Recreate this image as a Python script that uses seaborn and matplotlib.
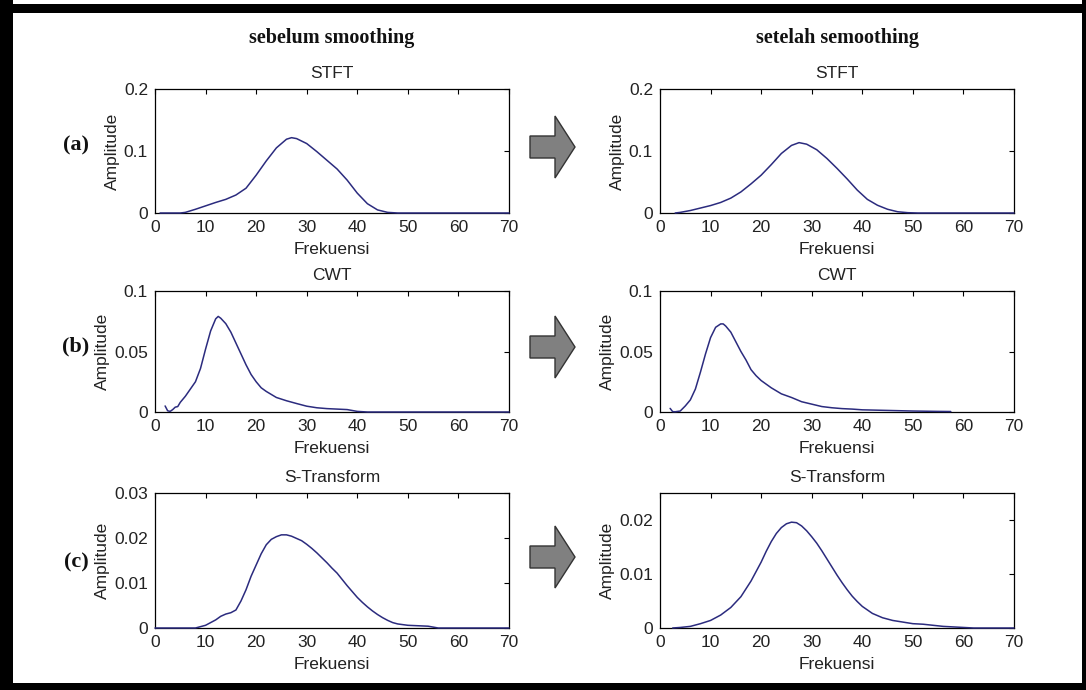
import matplotlib
matplotlib.use("Agg")
import matplotlib.pyplot as plt
import seaborn as sns
from matplotlib.patches import Polygon, Rectangle
from matplotlib.ticker import FuncFormatter

# ---- values ----
# STFT, before smoothing
stft_before_f = [1, 2, 4, 5, 6, 8, 10, 12, 14, 16, 18, 20, 22, 24, 26, 27, 28, 30, 32, 34,
                 36, 38, 40, 42, 44, 46, 48, 50, 55, 60, 65, 70]
stft_before_a = [0, 0, 0, 0, 0.001, 0.006, 0.0115, 0.017, 0.022, 0.029, 0.040, 0.061, 0.084,
                 0.105, 0.119, 0.1215, 0.120, 0.112, 0.099, 0.085, 0.071, 0.053, 0.032, 0.015,
                 0.005, 0.001, 0, 0, 0, 0, 0, 0]

# STFT, after smoothing
stft_after_f = [3, 4, 6, 8, 10, 12, 14, 16, 18, 20, 22, 24, 26, 27.5, 29, 31, 33, 35, 37, 39,
                41, 43, 45, 47, 49, 51, 55, 60, 65, 70]
stft_after_a = [0, 0.001, 0.004, 0.008, 0.012, 0.017, 0.024, 0.034, 0.047, 0.061, 0.078, 0.096,
                0.109, 0.1135, 0.111, 0.102, 0.088, 0.072, 0.055, 0.037, 0.022, 0.0125, 0.006,
                0.002, 0.0005, 0, 0, 0, 0, 0]

# CWT, before smoothing
cwt_before_f = [2, 2.5, 3, 3.5, 4, 4.5, 5, 6, 7, 8, 9, 10, 11, 12, 12.5, 13, 14, 15, 16, 17,
                18, 19, 20, 21, 22, 24, 26, 28, 30, 32, 34, 36, 38, 40, 42, 50, 60, 70]
cwt_before_a = [0.005, 0.001, 0.0005, 0.002, 0.004, 0.0045, 0.008, 0.013, 0.019, 0.025, 0.036,
                0.052, 0.067, 0.077, 0.079, 0.0775, 0.073, 0.066, 0.057, 0.048, 0.039, 0.031,
                0.025, 0.020, 0.017, 0.012, 0.0093, 0.007, 0.0048, 0.0035, 0.0028, 0.0024,
                0.002, 0.0005, 0, 0, 0, 0]

# CWT, after smoothing
cwt_after_f = [2, 2.5, 3, 4, 5, 6, 7, 8, 9, 10, 11, 12, 12.5, 13, 14, 15, 16, 17, 18, 19, 20,
               21, 22, 24, 26, 28, 30, 32, 34, 36, 38, 40, 45, 50, 55, 57.5]
cwt_after_a = [0.003, 0.0003, 0.0002, 0.0008, 0.005, 0.010, 0.019, 0.033, 0.048, 0.0615, 0.070,
               0.0728, 0.0728, 0.071, 0.066, 0.058, 0.050, 0.043, 0.035, 0.030, 0.026, 0.023,
               0.020, 0.015, 0.012, 0.0085, 0.0065, 0.0045, 0.0035, 0.0028, 0.0024, 0.0018,
               0.0013, 0.0008, 0.0005, 0.0004]

# S-Transform, before smoothing
st_before_f = [0, 4, 8, 9, 10, 11, 12, 13, 14, 15, 16, 17, 18, 19, 20, 21, 22, 23, 24, 25, 26,
               27, 28, 29, 30, 31, 32, 33, 34, 35, 36, 37, 38, 39, 40, 41, 42, 43, 44, 45, 46,
               47, 48, 50, 52, 54, 55, 56, 60, 65, 70]
st_before_a = [0, 0, 0, 0.0003, 0.0006, 0.0012, 0.0018, 0.0026, 0.0031, 0.0034, 0.004, 0.006,
               0.0085, 0.0115, 0.014, 0.0165, 0.0185, 0.0197, 0.0203, 0.0207, 0.0207, 0.0204,
               0.0199, 0.0194, 0.0186, 0.0177, 0.0167, 0.0156, 0.0145, 0.0133, 0.0122, 0.0108,
               0.0094, 0.0081, 0.0068, 0.0057, 0.0047, 0.0038, 0.003, 0.0023, 0.0017, 0.0012,
               0.0009, 0.0006, 0.0005, 0.0004, 0.0002, 0, 0, 0, 0]

# S-Transform, after smoothing
st_after_f = [2.5, 4, 6, 8, 10, 12, 14, 16, 18, 20, 21, 22, 23, 24, 25, 26, 27, 28, 29, 30, 31,
              32, 33, 34, 35, 36, 37, 38, 39, 40, 42, 44, 46, 48, 50, 52, 54, 56, 58, 60, 62,
              66, 70]
st_after_a = [0, 0.0001, 0.0003, 0.0008, 0.0014, 0.0024, 0.0038, 0.0058, 0.0087, 0.0122, 0.0142,
              0.016, 0.0175, 0.0186, 0.0193, 0.0196, 0.0195, 0.0189, 0.018, 0.0169, 0.0157,
              0.0143, 0.0128, 0.0113, 0.0098, 0.0084, 0.0071, 0.0059, 0.0049, 0.004, 0.0027,
              0.0019, 0.0014, 0.0011, 0.0008, 0.0007, 0.0005, 0.0003, 0.0002, 0.0001, 0, 0, 0]

row_titles = ["STFT", "CWT", "S-Transform"]
row_tags = ["(a)", "(b)", "(c)"]
col_titles = ["sebelum smoothing", "setelah semoothing"]
x_ticks = [0, 10, 20, 30, 40, 50, 60, 70]
y_ticks = [[0, 0.1, 0.2], [0, 0.05, 0.1], [0, 0.01, 0.02, 0.03], [0, 0.01, 0.02]]

sns.set_theme(style="white")
plt.rcParams["font.family"] = ["Liberation Sans", "DejaVu Sans"]
plt.rcParams["xtick.direction"] = "in"
plt.rcParams["ytick.direction"] = "in"

W, H = 1086, 690
fig = plt.figure(figsize=(W / 100, H / 100), dpi=100)
fig.patch.set_facecolor("white")


def rect(x0, x1, y0, y1):
    return [x0 / W, 1 - y1 / H, (x1 - x0) / W, (y1 - y0) / H]


col_x = [(155, 509), (660, 1014)]
row_y = [(89, 213), (291, 412), (493, 628)]

panels = [
    (0, 0, stft_before_f, stft_before_a, (0, 0.2), y_ticks[0]),
    (0, 1, stft_after_f, stft_after_a, (0, 0.2), y_ticks[0]),
    (1, 0, cwt_before_f, cwt_before_a, (0, 0.1), y_ticks[1]),
    (1, 1, cwt_after_f, cwt_after_a, (0, 0.1), y_ticks[1]),
    (2, 0, st_before_f, st_before_a, (0, 0.03), y_ticks[2]),
    (2, 1, st_after_f, st_after_a, (0, 0.025), y_ticks[3]),
]

line_color = "#2b2b7e"
txt = "#222222"
for row, col, f, a, ylim, yt in panels:
    ax = fig.add_axes(rect(col_x[col][0], col_x[col][1], row_y[row][0], row_y[row][1]))
    sns.lineplot(x=f, y=a, ax=ax, color=line_color, linewidth=1.1)
    for ln in ax.lines:
        ln.set_zorder(3)
        ln.set_clip_on(False)
    ax.set_xlim(0, 70)
    ax.set_ylim(*ylim)
    ax.set_xticks(x_ticks)
    ax.set_yticks(yt)
    ax.yaxis.set_major_formatter(FuncFormatter(lambda v, p: "%g" % v))
    ax.tick_params(axis="both", which="both", top=True, right=True, length=3.5,
                   width=0.8, color="black", labelsize=12.5, pad=5, labelcolor=txt)
    for sp in ax.spines.values():
        sp.set_color("black")
        sp.set_linewidth(0.9)
    ax.set_xlabel("Frekuensi", fontsize=12.5, labelpad=5, color=txt)
    ax.set_ylabel("Amplitude", fontsize=12.5, labelpad=3, color=txt)
    ax.set_title(row_titles[row], fontsize=12.5, pad=8, color=txt)
    ax.set_facecolor("white")

# overlay in pixel coordinates for frame, arrows and labels
ov = fig.add_axes([0, 0, 1, 1], zorder=-1)
ov.set_xlim(0, W)
ov.set_ylim(H, 0)
ov.axis("off")

for x0, y0, w, h in [(0, 4, W, 9), (0, 0, 13, H), (0, 683, W, 7), (W - 4, 0, 4, H)]:
    ov.add_patch(Rectangle((x0, y0), w, h, color="black", lw=0))

arrow_y = [147, 347, 557]
for cy in arrow_y:
    pts = [(530, cy - 11), (555, cy - 11), (555, cy - 31), (575, cy),
           (555, cy + 31), (555, cy + 11), (530, cy + 11)]
    ov.add_patch(Polygon(pts, closed=True, facecolor="#808080", edgecolor="#333333", lw=1.0))

tag_y = [145, 346, 562]
for tag, ty in zip(row_tags, tag_y):
    ov.text(76, ty, tag, ha="center", va="center", fontsize=16, fontweight="bold",
            family=["Liberation Serif", "DejaVu Serif"], color="#111111")

for title, (x0, x1) in zip(col_titles, col_x):
    ov.text((x0 + x1) / 2, 38, title, ha="center", va="center", fontsize=14.5,
            fontweight="bold", family=["Liberation Serif", "DejaVu Serif"], color="#111111")

fig.savefig("out.png", dpi=100, facecolor="white")
